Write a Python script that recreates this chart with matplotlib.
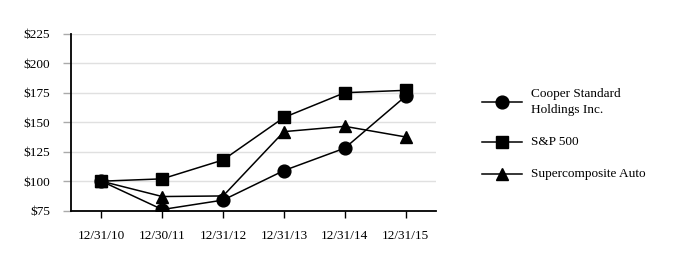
import matplotlib
matplotlib.use("Agg")
import matplotlib.pyplot as plt
from matplotlib.lines import Line2D

plt.rcParams['font.family'] = ['Liberation Serif', 'DejaVu Serif']

dates = ["12/31/10", "12/30/11", "12/31/12", "12/31/13", "12/31/14", "12/31/15"]
cooper = [100, 76, 84, 109, 128, 172]
sp500 = [100, 102, 118, 154, 175, 177]
supercomp = [100, 87, 87.5, 142, 146.5, 137.5]
yticks = [75, 100, 125, 150, 175, 200, 225]
labels = ["Cooper Standard\nHoldings Inc.", "S&P 500", "Supercomposite Auto"]

fig = plt.figure(figsize=(6.9, 2.66), dpi=100)
ax = fig.add_axes([71/690, 1 - 210.7/266, (436-71)/690, (210.7-33.7)/266])

x = list(range(len(dates)))
series = [(cooper, 'o', 9.2), (sp500, 's', 8.6), (supercomp, '^', 9.0)]
for vals, m, ms in series:
    ax.plot(x, vals, color='black', lw=1.1, marker=m, markersize=ms,
            markerfacecolor='black', markeredgecolor='black', zorder=3)

ax.set_xlim(-0.5, 5.5)
ax.set_ylim(75, 225)
ax.set_yticks(yticks)
ax.set_yticklabels([f"${v}" for v in yticks])
ax.set_xticks(x)
ax.set_xticklabels(dates)
ax.yaxis.grid(True, color='#e0e0e0', lw=1.0)
ax.set_axisbelow(True)
for s in ['top', 'right']:
    ax.spines[s].set_visible(False)
ax.spines['left'].set_linewidth(1.3)
ax.spines['bottom'].set_linewidth(1.3)
ax.tick_params(axis='x', length=5, width=1, pad=9, labelsize=9.5)
ax.tick_params(axis='y', length=6, width=1, color='#aaaaaa', pad=9, labelsize=9.5)

# legend drawn manually
leg_y = [102.3, 141.7, 174.3]
for (vals, m, ms), lab, yy in zip(series, labels, leg_y):
    yf = 1 - yy/266
    fig.add_artist(Line2D([481.7/690, 521.7/690], [yf, yf], color='black', lw=1.1,
                          transform=fig.transFigure))
    fig.add_artist(Line2D([501.5/690], [yf], marker=m, markersize=ms, color='black',
                          transform=fig.transFigure))
    fig.text(531/690, yf, lab, ha='left', va='center', fontsize=9.5, linespacing=1.45)

fig.savefig("out.png", dpi=100)
